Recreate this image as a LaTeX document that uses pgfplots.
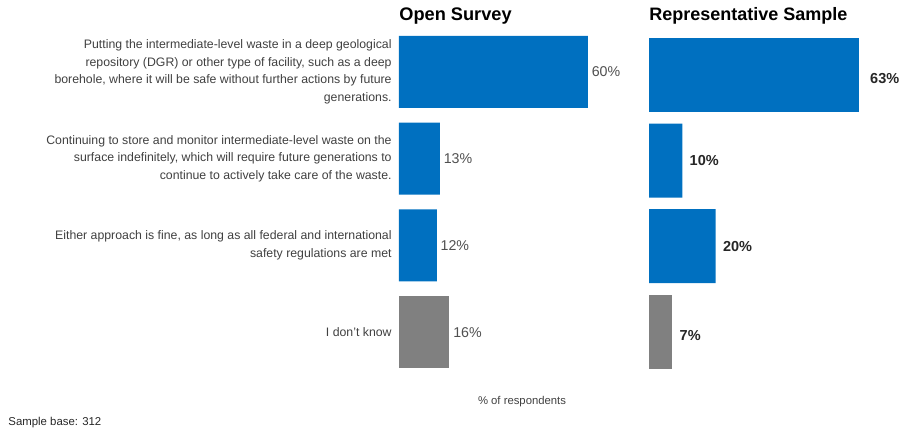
\documentclass[border=0pt]{standalone}
\usepackage{fontspec}
\setmainfont{Liberation Sans}
\usepackage{pgfplots}
\pgfplotsset{compat=1.18}
\definecolor{barblue}{RGB}{0,112,192}
\definecolor{bargrey}{RGB}{128,128,128}
\definecolor{labgrey}{RGB}{64,64,64}
\definecolor{valgrey}{RGB}{80,80,80}
\begin{document}
\begin{tikzpicture}
\begin{axis}[
  at={(199.5pt,201.2pt)}, anchor=north west,
  scale only axis, width=118.1pt, height=173.5pt,
  xmin=0, xmax=75, ymin=-0.5, ymax=3.5, y dir=reverse,
  axis line style={draw=none}, tick style={draw=none}, xtick=\empty,
  ytick={0,1,2,3},
  yticklabels={{Putting the intermediate-level waste in a deep geological\\repository (DGR) or other type of facility, such as a deep\\borehole, where it will be safe without further actions by future\\generations.},
  {Continuing to store and monitor intermediate-level waste on the\\surface indefinitely, which will require future generations to\\continue to actively take care of the waste.},
  {Either approach is fine, as long as all federal and international\\safety regulations are met},
  {I don’t know}},
  yticklabel style={align=right, font=\fontsize{6.15}{8.75}\selectfont, text=labgrey, inner sep=0pt, xshift=-3.5pt},
  clip=false,
  nodes near coords={\pgfplotspointmeta}, point meta=explicit symbolic,
  every node near coord/.append style={anchor=west, inner sep=0pt, xshift=1.75pt, font=\fontsize{7.1}{8}\selectfont, text=valgrey},
]
\addplot[xbar, bar shift=0pt, bar width=36pt, fill=barblue, draw=none] coordinates {(60,0) [60\%] (13,1) [13\%] (12,2) [12\%]};
\addplot[xbar, bar shift=0pt, bar width=36pt, fill=bargrey, draw=none] coordinates {(16,3) [16\%]};
\end{axis}
\begin{axis}[
  at={(324.5pt,199.35pt)}, anchor=north west,
  scale only axis, width=124.9pt, height=171pt,
  xmin=0, xmax=75, ymin=-0.5, ymax=3.5, y dir=reverse,
  axis line style={draw=none}, tick style={draw=none}, xtick=\empty, ytick=\empty,
  clip=false,
  nodes near coords={\pgfplotspointmeta}, point meta=explicit symbolic,
  every node near coord/.append style={anchor=west, inner sep=0pt, xshift=3.5pt, font=\bfseries\fontsize{7.25}{8}\selectfont, text=black!85},
]
\addplot[xbar, bar shift=0pt, bar width=37pt, fill=barblue, draw=none,
  every node near coord/.append style={xshift=2pt, yshift=-1.5pt}] coordinates {(63,0) [63\%]};
\addplot[xbar, bar shift=0pt, bar width=37pt, fill=barblue, draw=none] coordinates {(10,1) [10\%] (20,2) [20\%]};
\addplot[xbar, bar shift=0pt, bar width=37pt, fill=bargrey, draw=none,
  every node near coord/.append style={yshift=-2pt}] coordinates {(7,3) [7\%]};
\end{axis}
\node[anchor=base west, inner sep=0pt, font=\bfseries\fontsize{9.1}{10}\selectfont] at (199.5pt,205pt) {Open Survey};
\node[anchor=base west, inner sep=0pt, font=\bfseries\fontsize{9}{10}\selectfont] at (324.5pt,205pt) {Representative Sample};
\node[anchor=base, inner sep=0pt, font=\fontsize{5.65}{7}\selectfont, text=labgrey] at (261pt,13pt) {\% of respondents};
\node[anchor=base west, inner sep=0pt, font=\fontsize{5.7}{7}\selectfont, text=black!85] at (4pt,2.5pt) {Sample base: 312};
\pgfresetboundingbox
\path[use as bounding box] (0,0) rectangle (450pt,215.5pt);
\end{tikzpicture}
\end{document}
